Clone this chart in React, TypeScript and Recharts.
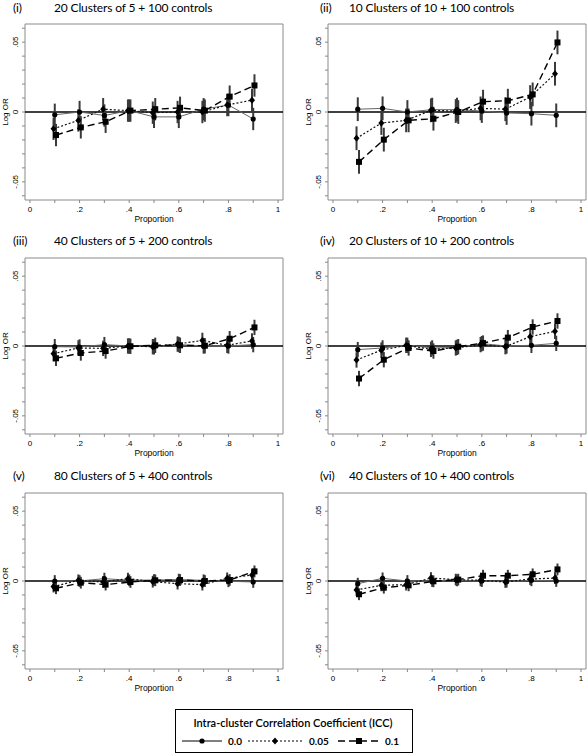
import React from "react";
import { ComposedChart, Line, XAxis, YAxis, ErrorBar, ReferenceLine, ReferenceArea } from "recharts";

const proportions = [0.1, 0.2, 0.3, 0.4, 0.5, 0.6, 0.7, 0.8, 0.9];
const panelNumerals = ["(i)", "(ii)", "(iii)", "(iv)", "(v)", "(vi)"];
const panelTitles = [
  "20 Clusters of 5 + 100 controls",
  "10 Clusters of 10 + 100 controls",
  "40 Clusters of 5 + 200 controls",
  "20 Clusters of 10 + 200 controls",
  "80 Clusters of 5 + 400 controls",
  "40 Clusters of 10 + 400 controls",
];
const xTicks = [0, 0.1, 0.2, 0.3, 0.4, 0.5, 0.6, 0.7, 0.8, 0.9, 1];
const xTickLabels: Record<string, string> = { "0": "0", "0.2": ".2", "0.4": ".4", "0.6": ".6", "0.8": ".8", "1": "1" };
const yTicks = [-0.06, -0.05, -0.04, -0.03, -0.02, -0.01, 0, 0.01, 0.02, 0.03, 0.04, 0.05, 0.06];
const yTickLabels: Record<string, string> = { "-0.05": "-.05", "0": "0", "0.05": ".05" };
const iccLabels = ["0.0", "0.05", "0.1"];

// Log OR estimates, one row per panel (i)..(vi)
const icc00 = [
  [-0.002, 0.0, -0.0025, 0.001, -0.0035, -0.0035, 0.002, 0.005, -0.005],
  [0.002, 0.0026, 0.0, 0.0017, 0.0017, 0.0007, -0.0007, -0.0012, -0.0024],
  [-0.0005, -0.0007, 0.001, 0.0, -0.0005, 0.001, 0.0, 0.0, 0.001],
  [-0.0026, -0.0014, 0.0005, -0.0014, -0.001, 0.0017, 0.0, 0.0005, 0.0019],
  [0.0, 0.0, 0.0017, 0.0005, 0.0007, 0.001, 0.0005, -0.0002, -0.0007],
  [-0.0019, 0.0019, 0.0, 0.0, 0.0005, 0.0, -0.0005, 0.0005, 0.0],
];
const icc005 = [
  [-0.012, -0.006, 0.002, 0.001, -0.0005, 0.0, 0.0, 0.005, 0.0085],
  [-0.0188, -0.0079, -0.006, 0.0012, 0.0007, 0.0026, 0.002, 0.0107, 0.0274],
  [-0.0055, -0.0014, -0.0017, 0.0, -0.0005, 0.0014, 0.004, 0.0005, 0.0036],
  [-0.01, -0.003, 0.0005, -0.0024, -0.0014, 0.001, -0.0005, 0.0067, 0.0105],
  [-0.004, 0.0005, -0.0007, 0.0017, -0.0005, -0.0019, -0.0026, 0.0019, 0.0043],
  [-0.0064, -0.0031, -0.0026, 0.0021, 0.001, 0.0005, -0.0007, 0.0014, 0.0021],
];
const icc01 = [
  [-0.0165, -0.011, -0.007, 0.001, 0.002, 0.003, 0.001, 0.011, 0.019],
  [-0.0357, -0.0198, -0.006, -0.0048, 0.0, 0.0074, 0.0081, 0.0126, 0.0498],
  [-0.0088, -0.005, -0.0036, -0.0002, 0.0005, 0.0005, 0.0002, 0.0052, 0.0133],
  [-0.0233, -0.0098, -0.0014, -0.0036, -0.0005, 0.0021, 0.006, 0.0136, 0.0179],
  [-0.0052, -0.0012, -0.0026, -0.0007, 0.0005, 0.0007, 0.0, 0.0007, 0.0069],
  [-0.0095, -0.0048, -0.0031, -0.0002, 0.001, 0.0038, 0.0038, 0.0048, 0.0083],
];
// approximate 95% CI half widths per panel
const ciHalfWidth = [0.008, 0.0085, 0.0055, 0.0055, 0.0042, 0.0042];

const AXIS_FONT = "'Liberation Sans', Arial, sans-serif";
const TITLE_FONT = "Lato, 'Open Sans', sans-serif";
const key = (v: number) => String(Math.round(v * 1000) / 1000);

const CircleDot = (p: any) =>
  p.cx == null ? <g key={p.index} /> : <circle key={p.index} cx={p.cx} cy={p.cy} r={2.6} fill="#000" />;
const DiamondDot = (p: any) =>
  p.cx == null ? (
    <g key={p.index} />
  ) : (
    <polygon
      key={p.index}
      points={`${p.cx},${p.cy - 3.6} ${p.cx + 3},${p.cy} ${p.cx},${p.cy + 3.6} ${p.cx - 3},${p.cy}`}
      fill="#000"
    />
  );
const SquareDot = (p: any) =>
  p.cx == null ? <g key={p.index} /> : <rect key={p.index} x={p.cx - 3} y={p.cy - 3} width={6} height={6} fill="#000" />;

const XTick = (p: any) => {
  const lbl = xTickLabels[key(p.payload.value)];
  if (!lbl) return <g />;
  return (
    <text x={p.x} y={p.y + 4} dy="0.35em" textAnchor="middle" fontSize={8} fontFamily={AXIS_FONT} fill="#000">
      {lbl}
    </text>
  );
};
const YTick = (p: any) => {
  const lbl = yTickLabels[key(p.payload.value)];
  if (!lbl) return <g />;
  const bx = p.x - 5;
  return (
    <text
      x={bx}
      y={p.y}
      dy="0.35em"
      textAnchor="middle"
      fontSize={8}
      fontFamily={AXIS_FONT}
      fill="#000"
      transform={`rotate(-90 ${bx} ${p.y})`}
    >
      {lbl}
    </text>
  );
};
const YLabel = (p: any) => {
  const vb = p.viewBox || {};
  const bx = vb.x + vb.width - 20;
  const by = vb.y + vb.height / 2;
  return (
    <text x={bx} y={by} dy="0.35em" textAnchor="middle" fontSize={8} fontFamily={AXIS_FONT} fill="#000" transform={`rotate(-90 ${bx} ${by})`}>
      Log OR
    </text>
  );
};
const XLabel = (p: any) => {
  const vb = p.viewBox || {};
  return (
    <text x={vb.x + vb.width / 2} y={vb.y + 19} dy="0.35em" textAnchor="middle" fontSize={8.5} fontFamily={AXIS_FONT} fill="#000">
      Proportion
    </text>
  );
};

const Panel = ({ idx }: { idx: number }) => {
  const col = idx % 2;
  const row = Math.floor(idx / 2);
  const left = col === 0 ? 0 : 293;
  const top = [0, 234, 469][row];
  const ci = ciHalfWidth[idx];
  const build = (vals: number[], dx: number) => proportions.map((p, i) => ({ x: p + dx, y: vals[i], err: ci }));
  const d0 = build(icc00[idx], 0);
  const d05 = build(icc005[idx], -0.005);
  const d1 = build(icc01[idx], 0.005);
  return (
    <div style={{ position: "absolute", left, top, width: 294, height: 235 }}>
      <ComposedChart
        width={294}
        height={235}
        margin={{ top: 24, right: col === 0 ? 11 : 1, bottom: 0, left: col === 0 ? 5 : 15 }}
      >
        <XAxis
          type="number"
          dataKey="x"
          domain={[-0.02, 1.02]}
          ticks={xTicks}
          allowDataOverflow
          height={35}
          axisLine={false}
          tickSize={3}
          tickLine={{ stroke: "#888" }}
          tick={<XTick />}
          interval={0}
          label={<XLabel />}
        />
        <YAxis
          type="number"
          domain={[-0.063, 0.063]}
          ticks={yTicks}
          allowDataOverflow
          width={20}
          axisLine={false}
          tickSize={3}
          tickLine={{ stroke: "#888" }}
          tick={<YTick />}
          interval={0}
          label={<YLabel />}
        />
        <ReferenceArea x1={-0.02} x2={1.02} y1={-0.063} y2={0.063} fill="none" stroke="#8a8a8a" strokeWidth={1} ifOverflow="visible" />
        <ReferenceLine y={0} stroke="#000" strokeWidth={1.5} />
        <Line data={d0} dataKey="y" stroke="#666" strokeWidth={1} dot={CircleDot} activeDot={false} isAnimationActive={false}>
          <ErrorBar dataKey="err" direction="y" width={0} stroke="#3a3a3a" strokeWidth={2} />
        </Line>
        <Line data={d05} dataKey="y" stroke="#111" strokeWidth={1.2} strokeDasharray="2 2" dot={DiamondDot} activeDot={false} isAnimationActive={false}>
          <ErrorBar dataKey="err" direction="y" width={0} stroke="#3a3a3a" strokeWidth={2} />
        </Line>
        <Line data={d1} dataKey="y" stroke="#000" strokeWidth={1.4} strokeDasharray="7 4" dot={SquareDot} activeDot={false} isAnimationActive={false}>
          <ErrorBar dataKey="err" direction="y" width={0} stroke="#3a3a3a" strokeWidth={2} />
        </Line>
      </ComposedChart>
    </div>
  );
};

const Overlay = () => {
  const rows = [1, 234, 469];
  return (
    <svg width={587} height={754} style={{ position: "absolute", left: 0, top: 0, pointerEvents: "none" }}>
      {panelTitles.map((t, i) => {
        const col = i % 2;
        const y = rows[Math.floor(i / 2)] + 11;
        const nx = col === 0 ? 13 : 320;
        const tx = col === 0 ? 54 : 349;
        return (
          <g key={i}>
            <text x={nx} y={y} fontSize={12} letterSpacing={-0.15} fontFamily={TITLE_FONT} fill="#000">
              {panelNumerals[i]}
            </text>
            <text x={tx} y={y} fontSize={12} letterSpacing={-0.15} fontFamily={TITLE_FONT} fill="#000">
              {t}
            </text>
          </g>
        );
      })}
      <rect x={175.5} y={709.5} width={237} height={43} fill="#fff" stroke="#000" strokeWidth={1} />
      <text x={293} y={727} textAnchor="middle" fontSize={11} fontWeight={600} fontFamily={TITLE_FONT} fill="#000">
        Intra-cluster Correlation Coefficient (ICC)
      </text>
      {/* 0.0 */}
      <line x1={182} y1={741} x2={222} y2={741} stroke="#000" strokeWidth={1} />
      <circle cx={202} cy={741} r={2.6} fill="#000" />
      <text x={228} y={745} fontSize={10} fontWeight={700} fontFamily={TITLE_FONT}>{iccLabels[0]}</text>
      {/* 0.05 */}
      <line x1={248} y1={741} x2={302} y2={741} stroke="#000" strokeWidth={1} strokeDasharray="2 2" />
      <polygon points="275,737.4 278,741 275,744.6 272,741" fill="#000" />
      <text x={309} y={745} fontSize={10} fontWeight={700} fontFamily={TITLE_FONT}>{iccLabels[1]}</text>
      {/* 0.1 */}
      <line x1={338} y1={741} x2={380} y2={741} stroke="#000" strokeWidth={1.5} strokeDasharray="7 4" />
      <rect x={356} y={738} width={6} height={6} fill="#000" />
      <text x={385} y={745} fontSize={10} fontWeight={700} fontFamily={TITLE_FONT}>{iccLabels[2]}</text>
    </svg>
  );
};

export default function App() {
  return (
    <div style={{ position: "absolute", left: 0, top: 0, width: 587, height: 754, background: "#fff", overflow: "hidden" }}>
      {[0, 1, 2, 3, 4, 5].map((i) => (
        <Panel key={i} idx={i} />
      ))}
      <Overlay />
    </div>
  );
}
